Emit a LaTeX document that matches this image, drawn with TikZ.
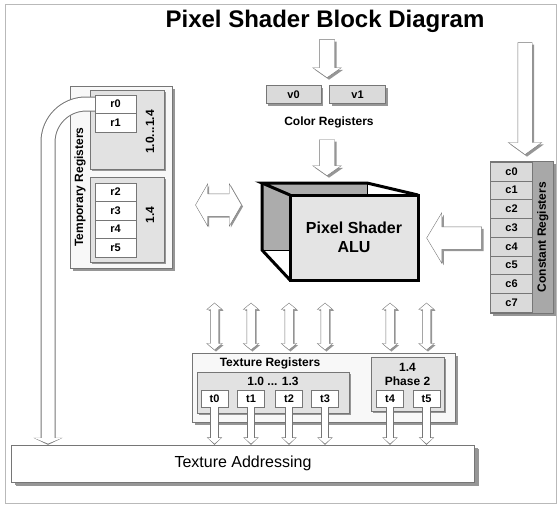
\documentclass[tikz,border=0pt]{standalone}
\usepackage{fontspec}
\setmainfont{Liberation Sans}
\usetikzlibrary{arrows.meta,shapes.arrows,shadows}
\definecolor{edgegray}{RGB}{118,118,118}
\definecolor{shadegray}{RGB}{150,150,150}
\definecolor{panelgray}{RGB}{226,226,226}
\definecolor{cellgray}{RGB}{218,218,218}
\definecolor{stripgray}{RGB}{168,168,168}
\definecolor{boxwhite}{RGB}{248,248,248}
\definecolor{aluback}{RGB}{172,172,172}
\definecolor{alufront}{RGB}{228,228,228}
\definecolor{framegray}{RGB}{185,185,185}
\tikzset{
  regframe/.style={
    draw=edgegray,
    fill=boxwhite,
    inner sep=0pt,
    drop shadow={shadow xshift=3pt, shadow yshift=-3pt, fill=shadegray, opacity=1}
  },
  regpanel/.style={
    draw=edgegray,
    fill=panelgray,
    inner sep=0pt,
    drop shadow={shadow xshift=2pt, shadow yshift=-2pt, fill=shadegray, opacity=1}
  },
  regcell/.style={
    draw=edgegray,
    fill=white,
    inner sep=0pt,
    font=\bfseries\fontsize{11}{13}\selectfont
  },
  boldtext/.style={
    inner sep=0pt,
    font=\bfseries\fontsize{12}{14}\selectfont
  },
  blockarrow/.style={
    single arrow,
    draw=edgegray,
    fill=white,
    single arrow head indent=0pt,
    drop shadow={shadow xshift=2pt, shadow yshift=-2pt, fill=shadegray, opacity=1}
  },
  dblarrow/.style={
    double arrow,
    draw=edgegray,
    fill=white,
    double arrow head indent=0pt,
    drop shadow={shadow xshift=1.5pt, shadow yshift=-1.5pt, fill=shadegray, opacity=1}
  },
  pipe/.style={
    draw=white,
    line width=6.5pt,
    shorten >=1.2pt,
    -{Triangle[length=5.5pt,width=12.5pt]},
    preaction={draw=edgegray, line width=8.5pt, shorten >=0pt,
      -{Triangle[length=7.5pt,width=15pt]}}
  },
  widepipe/.style={
    draw=white,
    line width=13pt,
    shorten >=1.2pt,
    -{Triangle[length=5.5pt,width=26.5pt]},
    preaction={draw=edgegray, line width=15pt, shorten >=0pt,
      -{Triangle[length=7pt,width=29pt]}}
  },
  aluedge/.style={
    line width=3pt,
    line join=miter
  }
}

\begin{document}
\begin{tikzpicture}[x=1pt, y=-1pt]
  \useasboundingbox (0,0) rectangle (559,504);
  \draw[framegray, line width=1pt] (5,4) rectangle (556,503);

  \node[font=\bfseries\fontsize{24}{28}\selectfont] (title) at (325,21) {Pixel Shader Block Diagram};

  % color registers
  \node[blockarrow, shape border rotate=270, inner sep=7.5pt, minimum height=38pt,
    single arrow head extend=6.5pt, single arrow tip angle=110] (colorin) at (327,56) {};
  \node[regcell, fill=cellgray, minimum width=55pt, minimum height=18pt,
    drop shadow={shadow xshift=2pt, shadow yshift=-2pt, fill=shadegray, opacity=1}] (v0) at (293.5,94.5) {v0};
  \node[regcell, fill=cellgray, minimum width=56pt, minimum height=18pt,
    drop shadow={shadow xshift=2pt, shadow yshift=-2pt, fill=shadegray, opacity=1}] (v1) at (357.5,94.5) {v1};
  \node[boldtext] (colorlabel) at (329,122) {Color Registers};
  \node[blockarrow, shape border rotate=270, inner sep=7.5pt, minimum height=36pt,
    single arrow head extend=6.5pt, single arrow tip angle=110] (colorout) at (327,155) {};

  % alu cube
  \fill[aluback] (262,183) rectangle (367,250);
  \draw[line width=0.6pt] (262,250) -- (290,250);
  \draw[line width=1pt] (367,183) -- (367,195);
  \draw[aluedge] (290,195) -- (262,183) -- (367,183) -- (418,195);
  \draw[aluedge] (262,183) -- (262,250) -- (290,280);
  \node[draw=black, line width=3pt, fill=alufront, minimum width=128pt, minimum height=85pt,
    align=center, font=\bfseries\fontsize{16}{19}\selectfont] (alu) at (354,237.5) {Pixel Shader\\ALU};

  % temporary registers
  \node[regframe, minimum width=102pt, minimum height=182pt] (tempframe) at (121,177) {};
  \node[regpanel, minimum width=74pt, minimum height=79pt, drop shadow={shadow xshift=1pt, shadow yshift=-1pt, fill=shadegray, opacity=1}] (temppanela) at (127,129.5) {};
  \node[regpanel, minimum width=74pt, minimum height=85pt, drop shadow={shadow xshift=1pt, shadow yshift=-1pt, fill=shadegray, opacity=1}] (temppanelb) at (127,219.5) {};
  \node[boldtext, rotate=90] (templabel) at (80,187) {Temporary Registers};
  \node[regcell, minimum width=41pt, minimum height=18.5pt] (r0) at (115.5,104) {r0};
  \node[regcell, minimum width=41pt, minimum height=18.5pt] (r1) at (115.5,122.5) {r1};
  \node[regcell, minimum width=41pt, minimum height=18.5pt] (r2) at (115.5,192) {r2};
  \node[regcell, minimum width=41pt, minimum height=18.5pt] (r3) at (115.5,210.5) {r3};
  \node[regcell, minimum width=41pt, minimum height=18.5pt] (r4) at (115.5,229) {r4};
  \node[regcell, minimum width=41pt, minimum height=18.5pt] (r5) at (115.5,247.5) {r5};
  \node[boldtext, rotate=90] (rangea) at (150,132) {1.0...1.4};
  \node[boldtext, rotate=90] (rangeb) at (150,215) {1.4};
  \node[dblarrow, inner sep=11pt, minimum height=46pt,
    double arrow head extend=10pt, double arrow tip angle=120] (tempalu) at (218.5,205) {};

  % constant registers
  \node[blockarrow, shape border rotate=270, inner sep=7pt, minimum height=112pt,
    single arrow head extend=9.5pt, single arrow tip angle=108] (constin) at (525,96) {};
  \node[regframe, fill=stripgray, minimum width=63pt, minimum height=152pt] (constframe) at (521.5,237) {};
  \node[regcell, fill=cellgray, minimum width=42pt, minimum height=18.75pt] (c0) at (511.5,171.4) {c0};
  \node[regcell, fill=cellgray, minimum width=42pt, minimum height=18.75pt] (c1) at (511.5,190.1) {c1};
  \node[regcell, fill=cellgray, minimum width=42pt, minimum height=18.75pt] (c2) at (511.5,208.9) {c2};
  \node[regcell, fill=cellgray, minimum width=42pt, minimum height=18.75pt] (c3) at (511.5,227.6) {c3};
  \node[regcell, fill=cellgray, minimum width=42pt, minimum height=18.75pt] (c4) at (511.5,246.4) {c4};
  \node[regcell, fill=cellgray, minimum width=42pt, minimum height=18.75pt] (c5) at (511.5,265.1) {c5};
  \node[regcell, fill=cellgray, minimum width=42pt, minimum height=18.75pt] (c6) at (511.5,283.9) {c6};
  \node[regcell, fill=cellgray, minimum width=42pt, minimum height=18.75pt] (c7) at (511.5,302.6) {c7};
  \node[boldtext, rotate=90] (constlabel) at (542.75,237) {Constant Registers};
  \node[blockarrow, shape border rotate=180, inner sep=11pt, minimum height=55pt,
    single arrow head extend=14pt, single arrow tip angle=118] (constout) at (457.5,238) {};

  % texture addressing
  \node[regframe, fill=white, minimum width=463pt, minimum height=37pt,
    drop shadow={shadow xshift=4pt, shadow yshift=-4pt, fill=shadegray, opacity=1},
    font=\fontsize{16}{19}\selectfont] (texaddr) at (243,463.5) {Texture Addressing};

  % texture registers
  \node[regframe, minimum width=263pt, minimum height=69pt] (texframe) at (323.5,387.5) {};
  \node[boldtext] (texlabel) at (270,363) {Texture Registers};
  \node[regpanel, minimum width=152pt, minimum height=41pt] (texpanela) at (273,392.5) {};
  \node[regpanel, minimum width=73pt, minimum height=54pt] (texpanelb) at (407.5,384) {};
  \node[boldtext] (rangec) at (273,381) {1.0 ... 1.3};
  \node[boldtext, align=center] (ranged) at (407.5,374) {1.4\\Phase 2};
  \node[regcell, minimum width=27pt, minimum height=17pt] (t0) at (214.5,398.5) {t0};
  \node[regcell, minimum width=27pt, minimum height=17pt] (t1) at (251,398.5) {t1};
  \node[regcell, minimum width=27pt, minimum height=17pt] (t2) at (289,398.5) {t2};
  \node[regcell, minimum width=27pt, minimum height=17pt] (t3) at (325,398.5) {t3};
  \node[regcell, minimum width=27pt, minimum height=17pt] (t4) at (390,398.5) {t4};
  \node[regcell, minimum width=27pt, minimum height=17pt] (t5) at (426.5,398.5) {t5};

  % alu <-> texture registers
  \node[dblarrow, shape border rotate=90, inner sep=4pt, minimum height=47pt,
    double arrow head extend=3.5pt, double arrow tip angle=100] (alut0) at (214.5,326.5) {};
  \node[dblarrow, shape border rotate=90, inner sep=4pt, minimum height=47pt,
    double arrow head extend=3.5pt, double arrow tip angle=100] (alut1) at (251,326.5) {};
  \node[dblarrow, shape border rotate=90, inner sep=4pt, minimum height=47pt,
    double arrow head extend=3.5pt, double arrow tip angle=100] (alut2) at (289,326.5) {};
  \node[dblarrow, shape border rotate=90, inner sep=4pt, minimum height=47pt,
    double arrow head extend=3.5pt, double arrow tip angle=100] (alut3) at (325,326.5) {};
  \node[dblarrow, shape border rotate=90, inner sep=4pt, minimum height=47pt,
    double arrow head extend=3.5pt, double arrow tip angle=100] (alut4) at (390,326.5) {};
  \node[dblarrow, shape border rotate=90, inner sep=4pt, minimum height=47pt,
    double arrow head extend=3.5pt, double arrow tip angle=100] (alut5) at (426.5,326.5) {};

  % texture registers -> texture addressing
  \draw[pipe] (t0.south) -- (t0.south |- texaddr.north);
  \draw[pipe] (t1.south) -- (t1.south |- texaddr.north);
  \draw[pipe] (t2.south) -- (t2.south |- texaddr.north);
  \draw[pipe] (t3.south) -- (t3.south |- texaddr.north);
  \draw[pipe] (t4.south) -- (t4.south |- texaddr.north);
  \draw[pipe] (t5.south) -- (t5.south |- texaddr.north);

  % r0 -> texture addressing
  \coordinate (pipeturn) at (48,104);
  \draw[widepipe, rounded corners=38pt] (r0.west) -- (pipeturn) -- (pipeturn |- texaddr.north);
\end{tikzpicture}
\end{document}
